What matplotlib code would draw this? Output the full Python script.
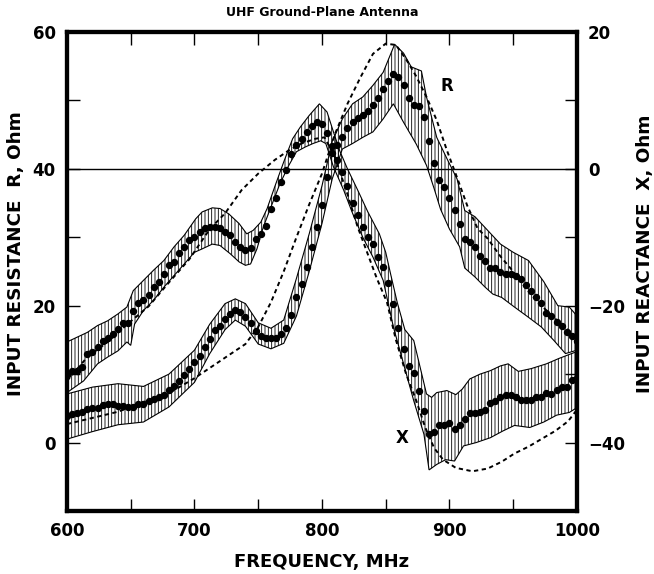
import numpy as np
import matplotlib
matplotlib.use("Agg")
import matplotlib.pyplot as plt
from matplotlib.ticker import MultipleLocator

plt.rcParams['font.family'] = ['DejaVu Sans']
plt.rcParams['font.weight'] = 'bold'
plt.rcParams['hatch.linewidth'] = 0.6

# measured points, every 4 MHz
freq = np.arange(600, 1001, 4)

# input resistance R (left axis, Ohm)
R = [3.9, 4.2, 4.3, 4.4, 4.9, 5.1, 5.1, 5.5, 5.6, 5.6,
     5.4, 5.4, 5.2, 5.2, 5.6, 5.7, 6.0, 6.4, 6.7, 7.0,
     7.7, 8.3, 9.0, 9.9, 10.8, 11.7,
     12.7, 13.9, 15.2, 16.4, 17.0, 18.0, 18.8, 19.3, 19.1, 18.4,
     17.4, 16.3, 15.6, 15.3, 15.3, 15.3, 15.8, 16.8, 18.7, 21.2,
     23.2, 25.7, 28.6, 31.5, 34.7,
     38.8, 42.3, 43.5, 44.6, 46.0, 46.8, 47.4, 47.9, 48.4, 49.4,
     50.3, 51.6, 52.9, 53.9, 53.4, 52.2, 50.4, 49.3, 49.2, 47.6,
     44.0, 40.8, 38.3, 37.3, 35.8,
     34.0, 32.0, 29.8, 29.3, 28.6, 27.3, 26.6, 25.5, 25.5, 24.9,
     24.7, 24.7, 24.4, 23.9, 23.0, 22.1, 21.2, 20.4, 19.0, 18.5,
     17.6, 17.0, 16.1, 15.5, 14.9]

# input reactance X (right axis, Ohm)
X = [-30.2, -29.6, -29.5, -28.9, -27.0, -26.8, -26.1, -25.2, -24.7, -24.2,
     -23.4, -22.5, -22.5, -20.8, -19.6, -19.2, -18.5, -17.3, -16.6, -15.4,
     -14.1, -13.6, -12.3, -11.4, -10.4, -9.9,
     -9.2, -8.6, -8.5, -8.5, -8.7, -9.2, -9.7, -10.7, -11.4, -11.8,
     -11.5, -10.2, -9.5, -8.3, -5.8, -4.3, -1.9, -0.2, 2.2, 3.5,
     4.4, 5.4, 6.2, 6.9, 6.5,
     5.3, 3.3, 1.3, -0.4, -2.5, -5.0, -6.7, -8.5, -10.0, -11.0,
     -12.9, -14.4, -16.7, -19.8, -23.3, -26.4, -28.8, -29.9, -32.4, -35.4,
     -38.8, -38.4, -37.5, -37.5, -37.1,
     -38.0, -37.4, -36.5, -35.7, -35.7, -35.6, -35.2, -34.2, -33.9, -33.4,
     -33.1, -33.1, -33.3, -33.8, -33.8, -33.8, -33.4, -33.4, -32.8, -32.9,
     -32.3, -31.9, -31.9, -30.8, -30.6]

# uncertainty band of R
R_up_f = [600, 620, 640, 660, 680, 700, 712, 724, 732, 740,
          750, 760, 770, 780, 790, 800, 808, 816, 824, 832,
          840, 848, 857, 864, 870, 878, 882, 890, 898, 906,
          912, 920, 930, 940, 950, 962, 974, 985, 994, 1000]
R_up = [7.1, 8.1, 8.6, 8.2, 10.0, 13.5, 17.3, 20.3, 21.0, 20.3,
        17.5, 16.7, 17.9, 24.0, 30.5, 37.5, 44.0, 47.3, 49.5, 50.5,
        52.2, 54.1, 58.2, 56.9, 54.9, 54.3, 50.5, 44.6, 41.5, 38.5,
        33.9, 33.0, 31.0, 29.0, 27.8, 26.6, 23.5, 20.0, 19.8, 18.5]
R_lo_f = [600, 620, 640, 660, 680, 700, 712, 724, 732, 740,
          750, 760, 770, 780, 790, 800, 808, 816, 824, 832,
          840, 848, 856, 864, 874, 882, 888, 893, 900, 908,
          912, 920, 928, 934, 941, 951, 962, 972, 982, 991, 1000]
R_lo = [0.5, 1.6, 2.6, 3.0, 5.2, 8.8, 13.0, 16.5, 17.9, 17.0,
        14.4, 13.7, 14.5, 18.5, 25.0, 32.0, 38.5, 42.9, 43.7, 44.6,
        45.4, 47.3, 49.5, 46.8, 43.6, 40.5, 37.1, 34.1, 31.2, 28.6,
        25.5, 24.2, 22.7, 21.7, 21.2, 19.8, 18.3, 16.9, 14.9, 13.0, 13.5]

# uncertainty band of X
X_up_f = [600, 616, 624, 632, 640, 647, 652, 660, 668, 676,
          684, 692, 701, 706, 714, 720, 727, 735, 741, 746,
          752, 757, 763, 770, 777, 783, 790, 798, 804, 809,
          814, 820, 828, 836, 845, 850, 854, 859, 865, 872,
          877, 882, 886, 890, 898, 905, 910, 916, 924, 932,
          940, 946, 954, 964, 976, 986, 993, 1000]
X_up = [-25.3, -23.9, -22.9, -22.2, -21.2, -20.2, -17.8, -16.3, -14.8, -13.4,
        -11.4, -9.7, -7.3, -6.3, -5.7, -5.8, -6.6, -8.0, -9.5, -9.0,
        -7.8, -5.8, -2.6, 1.0, 4.4, 6.1, 7.8, 9.5, 8.3, 5.4,
        2.6, 0.0, -3.1, -6.3, -9.5, -12.2, -15.5, -19.5, -23.5, -25.1,
        -29.0, -32.9, -33.4, -32.7, -32.4, -33.0, -32.2, -30.7, -30.0, -29.5,
        -28.8, -28.5, -29.6, -29.2, -28.5, -27.7, -27.2, -26.7]
X_lo_f = [600, 613, 624, 632, 640, 647, 650, 653, 660, 668,
          676, 684, 692, 700, 706, 714, 720, 728, 735, 740,
          744, 749, 754, 761, 767, 774, 780, 787, 793, 799,
          803, 809, 817, 824, 832, 840, 848, 856, 864, 872,
          880, 884, 890, 897, 904, 911, 921, 932, 942, 951,
          963, 974, 984, 994, 1000]
X_lo = [-32.7, -31.0, -28.5, -27.5, -26.6, -25.3, -25.8, -22.7, -20.7, -19.2,
        -17.3, -15.6, -13.9, -12.2, -11.7, -11.0, -11.2, -12.4, -13.6, -14.1,
        -13.9, -11.7, -8.5, -5.1, -2.2, 0.5, 2.5, 3.2, 3.7, 4.1,
        3.7, 0.3, -3.1, -6.5, -10.0, -12.9, -16.3, -23.1, -28.5, -33.9,
        -38.8, -44.0, -43.2, -42.5, -42.7, -40.5, -40.0, -39.3, -38.3, -37.5,
        -37.8, -37.0, -36.0, -35.6, -34.9]

# calculated curves (dashed)
R_th_f = [600, 620, 640, 660, 680, 700, 720, 740, 750, 760,
          770, 780, 790, 800, 810, 820, 830, 840, 850, 858,
          866, 874, 882, 890, 898, 906, 914, 922, 930, 940,
          950, 960, 970, 980, 990, 1000]
R_th = [2.7, 3.6, 4.5, 5.9, 7.2, 9.4, 11.9, 14.4, 16.9, 20.5,
        25.0, 30.0, 34.8, 39.3, 45.0, 49.5, 53.3, 56.8, 58.3, 58.1,
        56.0, 53.5, 50.5, 47.1, 42.7, 38.7, 34.6, 31.3, 29.8, 27.2,
        25.0, 22.5, 20.4, 18.6, 16.9, 15.4]
X_th_f = [600, 616, 632, 648, 664, 680, 696, 712, 724, 737,
          750, 763, 774, 784, 795, 802, 810, 820, 828, 836,
          843, 851, 858, 866, 874, 881, 888, 895, 905, 918,
          930, 941, 951, 962, 972, 983, 993, 1000]
X_th = [-31.0, -27.5, -25.3, -22.6, -20.1, -16.6, -13.2, -8.8, -6.5, -3.1,
        -0.7, 1.3, 2.7, 3.7, 4.4, 4.6, 1.8, -3.7, -8.5, -12.5,
        -16.0, -19.5, -25.0, -30.0, -33.9, -37.8, -40.8, -42.5, -43.7, -44.2,
        -43.8, -42.8, -41.6, -40.6, -39.5, -38.3, -36.9, -35.2]

fig = plt.figure(figsize=(6.54, 5.74), dpi=100)
ax = fig.add_axes([0.1024, 0.1098, 0.7798, 0.8345])
ax2 = ax.twinx()

dash = (0, (2.2, 1.8))

# R on left axis
ax.fill(np.concatenate([R_up_f, R_lo_f[::-1]]), np.concatenate([R_up, R_lo[::-1]]),
        facecolor='none', edgecolor='black', hatch='|||||', linewidth=0.8)
ax.plot(R_th_f, R_th, color='black', lw=1.4, linestyle=dash)
ax.plot(freq, R, 'o', color='black', ms=4.3, zorder=3)
ax.axhline(40, color='black', lw=1.0)

# X on right axis
ax2.fill(np.concatenate([X_up_f, X_lo_f[::-1]]), np.concatenate([X_up, X_lo[::-1]]),
         facecolor='none', edgecolor='black', hatch='|||||', linewidth=0.8)
ax2.plot(X_th_f, X_th, color='black', lw=1.4, linestyle=dash)
ax2.plot(freq, X, 'o', color='black', ms=4.3, zorder=3)

ax.set_xlim(600, 1000)
ax.set_ylim(-10, 60)
ax2.set_ylim(-50, 20)

ax.xaxis.set_major_locator(MultipleLocator(100))
ax.xaxis.set_minor_locator(MultipleLocator(50))
for a in (ax, ax2):
    a.yaxis.set_major_locator(MultipleLocator(20))
    a.yaxis.set_minor_locator(MultipleLocator(10))
    a.tick_params(which='both', direction='in', length=9, width=1,
                  labelsize=12, pad=8)
    for s in a.spines.values():
        s.set_linewidth(3)
ax.tick_params(which='both', top=True)

ax.text(898, 52.1, 'R', fontsize=12, fontweight='bold', ha='center', va='center')
ax2.text(862.7, -39.4, 'X', fontsize=12, fontweight='bold', ha='center', va='center')

fig.text(0.4924, 0.979, 'UHF Ground-Plane Antenna', fontsize=9,
         fontweight='bold', ha='center', va='center')
fig.text(0.4924, 0.0209, 'FREQUENCY, MHz', fontsize=13,
         fontweight='bold', ha='center', va='center')
fig.text(0.0245, 0.5575, 'INPUT RESISTANCE  R, Ohm', fontsize=13.2,
         fontweight='bold', ha='center', va='center', rotation=90)
fig.text(0.986, 0.5575, 'INPUT REACTANCE  X, Ohm', fontsize=13.2,
         fontweight='bold', ha='center', va='center', rotation=90)

fig.savefig('out.png', dpi=100)
